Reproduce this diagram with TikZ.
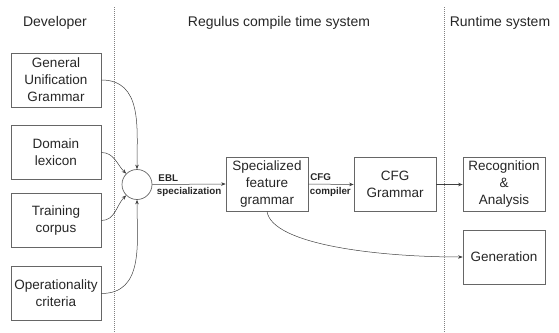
\documentclass[tikz,border=0pt]{standalone}
\usepackage{fontspec}
\setmainfont{Liberation Sans}
\usetikzlibrary{arrows.meta}
\begin{document}
\begin{tikzpicture}[x=1pt,y=-1pt,
  box/.style={draw=black!60, line width=0.7pt, minimum width=90pt, minimum height=54pt, inner sep=1pt, align=center, font=\fontsize{13.5}{17}\selectfont, text=black!85},
  hdr/.style={font=\fontsize{14}{16}\selectfont, text=black!85},
  lbl/.style={font=\bfseries\fontsize{9.8}{11}\selectfont, text=black!85, inner sep=0pt},
  conn/.style={draw=black!75, line width=0.5pt, -{Stealth[length=4.5pt,width=3.5pt]}},
  sep/.style={draw=black!50, line width=0.6pt, dash pattern=on 1pt off 1pt}]
\useasboundingbox (0,0) rectangle (559,332);
\node[hdr] (h1) at (55,23) {Developer};
\node[hdr] (h2) at (279,23) {Regulus compile time system};
\node[hdr] (h3) at (500,23) {Runtime system};
\coordinate (s1t) at (114,7); \coordinate (s1b) at (114,332);
\coordinate (s2t) at (444,7); \coordinate (s2b) at (444,332);
\draw[sep] (s1t) -- (s1b);
\draw[sep] (s2t) -- (s2b);
\node[box] (gug) at (56,80) {General\\Unification\\Grammar};
\node[box] (dl) at (56,152.5) {Domain\\lexicon};
\node[box] (tc) at (56,220.5) {Training\\corpus};
\node[box] (oc) at (56,293.5) {Operationality\\criteria};
\node[draw=black!60, line width=0.7pt, circle, minimum size=30pt, inner sep=0pt] (circ) at (137,184.5) {};
\node[box, minimum width=82pt] (sfg) at (267,184) {Specialized\\feature\\grammar};
\node[box, minimum width=82pt] (cfg) at (395,184.5) {CFG\\Grammar};
\node[box, minimum width=82pt] (rec) at (504,184.5) {Recognition\\\&\\Analysis};
\node[box, minimum width=82pt] (gen) at (504,257) {Generation};
\draw[conn] (gug.east) to[out=0,in=90,looseness=1.1] (circ.north);
\draw[conn] (dl.east) to[out=0,in=135] (circ.135);
\draw[conn] (tc.east) to[out=0,in=225] (circ.225);
\draw[conn] (oc.east) to[out=0,in=-90,looseness=1.1] (circ.south);
\draw[conn] (circ.east) -- (sfg.west) node[lbl, pos=0.08, anchor=south west, yshift=3pt] (ebl) {EBL} node[lbl, pos=0.06, anchor=north west, yshift=-3pt] (spz) {specialization};
\draw[conn] (sfg.east) -- (cfg.west) node[lbl, pos=0.04, anchor=south west, yshift=3pt] (cfgl) {CFG} node[lbl, pos=0.03, anchor=north west, yshift=-3pt] (cpl) {compiler};
\draw[conn] (cfg.east) -- (rec.west);
\draw[conn] (sfg.south) .. controls (272,245) and (380,257) .. (gen.west);
\end{tikzpicture}
\end{document}
